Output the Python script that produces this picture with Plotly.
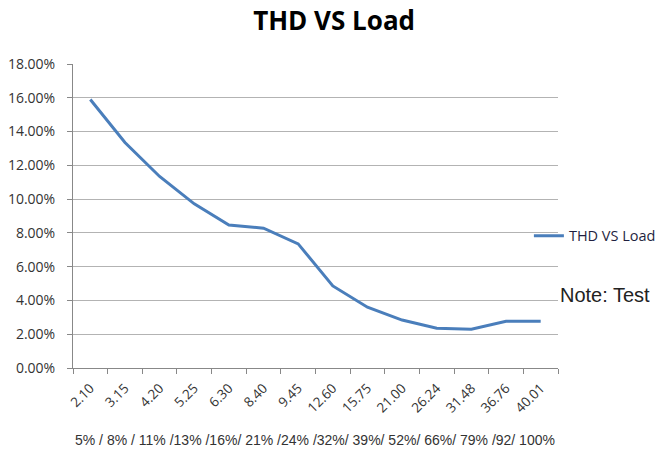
import plotly.graph_objects as go

load_kw = ["2.10", "3.15", "4.20", "5.25", "6.30", "8.40", "9.45", "12.60",
           "15.75", "21.00", "26.24", "31.48", "36.76", "40.01"]
thd = [0.159, 0.1335, 0.1134, 0.0972, 0.0847, 0.0828, 0.0735, 0.0486,
       0.0360, 0.0284, 0.0235, 0.0229, 0.0277, 0.0277]
load_pct_text = "5% / 8% / 11% /13% /16%/ 21% /24% /32%/ 39%/ 52%/ 66%/ 79% /92/ 100%"
series_name = "THD VS Load"
title_text = "THD VS Load"
note_text = "Note: Test"

fig = go.Figure()
fig.add_trace(go.Scatter(
    x=load_kw, y=thd, mode="lines", name=series_name,
    line=dict(color="#4a7ebb", width=3),
))

fig.update_layout(
    width=659, height=449,
    margin=dict(l=73, r=101, t=64, b=81, autoexpand=False),
    paper_bgcolor="white", plot_bgcolor="white",
    title=dict(text="<b>" + title_text + "</b>", x=0.507, xanchor="center",
               y=0.953, yanchor="middle",
               font=dict(family="Open Sans", size=26, color="black")),
    showlegend=True,
    legend=dict(x=0.94, xanchor="left", y=0.435, yanchor="middle",
                font=dict(family="Open Sans", size=14.5, color="#1f1f3f"),
                bgcolor="rgba(0,0,0,0)"),
    font=dict(family="Open Sans", color="#404040"),
)
fig.update_xaxes(
    type="category", range=[-0.5, len(load_kw) - 0.5],
    tickangle=-45, tickson="boundaries",
    ticks="outside", ticklen=5, tickcolor="#888888",
    showline=True, linecolor="#888888", linewidth=1,
    ticklabelstandoff=6,
    showgrid=False, tickfont=dict(family="Open Sans", size=13.5, color="#333333"),
)
fig.update_yaxes(
    range=[0, 0.18], dtick=0.02, tickformat=".2%",
    ticks="outside", ticklen=5, tickcolor="#888888",
    showline=True, linecolor="#888888", linewidth=1,
    showgrid=True, gridcolor="#b3b3b3", gridwidth=1,
    zeroline=False, ticklabelstandoff=9,
    tickfont=dict(family="Open Sans", size=14, color="#333333"),
)
fig.add_annotation(text=load_pct_text, xref="paper", yref="paper",
                   x=0.0, xanchor="left", y=-0.237, yanchor="middle",
                   showarrow=False,
                   font=dict(family="Liberation Sans", size=14, color="#333333"))
fig.add_annotation(text=note_text, xref="paper", yref="paper",
                   x=0.999, xanchor="left", y=0.24, yanchor="middle",
                   showarrow=False,
                   font=dict(family="Liberation Sans", size=20, color="#222222"))

fig.write_html("out.html", config={"displayModeBar": False},
               post_script="document.body.style.margin='0';")
